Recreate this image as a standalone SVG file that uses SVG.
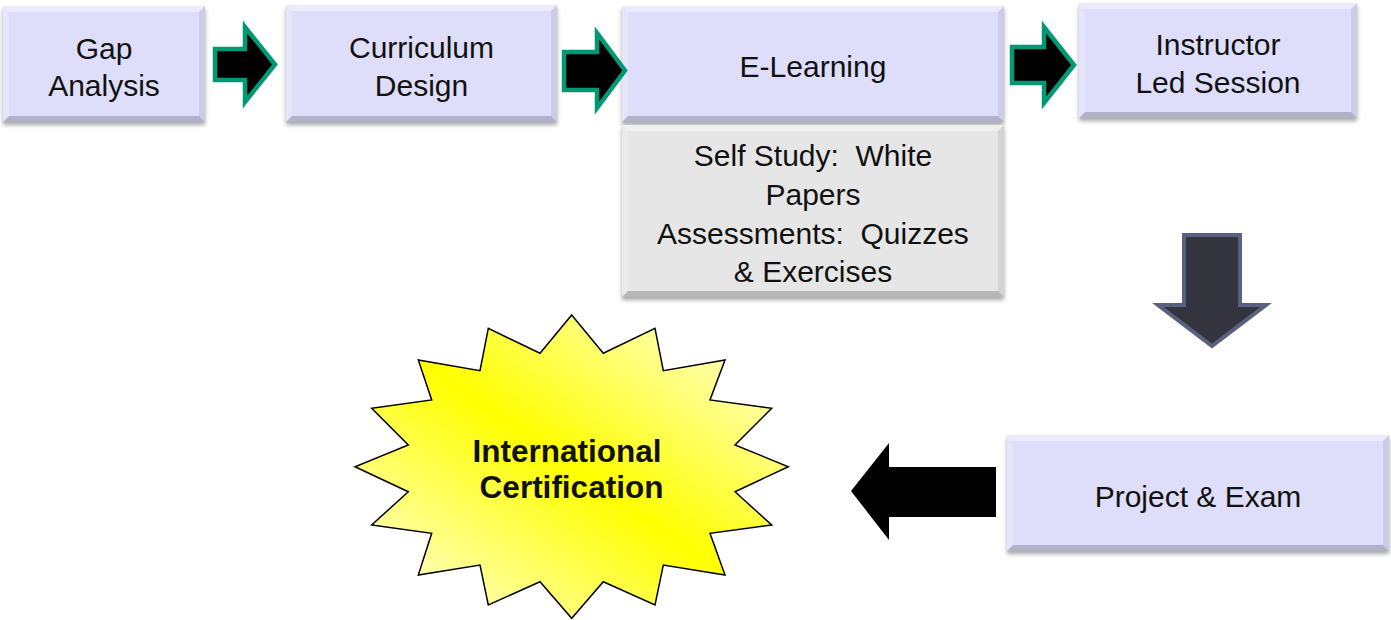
<svg xmlns="http://www.w3.org/2000/svg" width="1391" height="620" viewBox="0 0 1391 620">
  <defs>
    <filter id="shadow" x="-5%" y="-10%" width="110%" height="130%">
      <feDropShadow dx="0" dy="3" stdDeviation="2" flood-color="#000" flood-opacity="0.35"/>
    </filter>
    <linearGradient id="starGrad" x1="1" y1="0" x2="0" y2="1">
      <stop offset="0" stop-color="#fffff2"/>
      <stop offset="0.5" stop-color="#ffff00"/>
      <stop offset="1" stop-color="#fffff2"/>
    </linearGradient>
    <style>
      .box { fill: #dedefa; filter: url(#shadow); }
      .gbox { fill: #e6e6e6; filter: url(#shadow); }
      .bt { fill: #ffffff; opacity: 0.4; }
      .bl { fill: #ffffff; opacity: 0.22; }
      .br { fill: #000000; opacity: 0.08; }
      .bb { fill: #000000; opacity: 0.2; }
      .lbl { font-family: "Liberation Sans", Arial, sans-serif; font-size: 30px; fill: #111; text-anchor: middle; }
      .star-lbl { font-family: "Liberation Sans", Arial, sans-serif; font-size: 31.5px; font-weight: bold; fill: #111; text-anchor: middle; }
      .garrow { fill: #000; stroke: #009973; stroke-width: 4.5; stroke-linejoin: miter; }
      .darrow { fill: #34343f; stroke: #5a6080; stroke-width: 4; stroke-linejoin: miter; }
      .barrow { fill: #000; }
    </style>
  </defs>

  <g id="node-gap-analysis">
    <rect class="box" x="3" y="6" width="202" height="116"/>
    <polygon class="bt" points="3,6 205,6 199,12 9,12"/>
    <polygon class="bl" points="3,6 9,12 9,116 3,122"/>
    <polygon class="br" points="205,6 205,122 199,116 199,12"/>
    <polygon class="bb" points="3,122 205,122 199,116 9,116"/>
    <text class="lbl" x="104" y="58.5">Gap</text>
    <text class="lbl" x="104" y="96">Analysis</text>
  </g>

  <g id="node-curriculum-design">
    <rect class="box" x="286" y="5" width="271" height="117"/>
    <polygon class="bt" points="286,5 557,5 551,11 292,11"/>
    <polygon class="bl" points="286,5 292,11 292,116 286,122"/>
    <polygon class="br" points="557,5 557,122 551,116 551,11"/>
    <polygon class="bb" points="286,122 557,122 551,116 292,116"/>
    <text class="lbl" x="421.5" y="57.5">Curriculum</text>
    <text class="lbl" x="421.5" y="95.5">Design</text>
  </g>

  <g id="node-e-learning">
    <rect class="box" x="622" y="6" width="382" height="116"/>
    <polygon class="bt" points="622,6 1004,6 998,12 628,12"/>
    <polygon class="bl" points="622,6 628,12 628,116 622,122"/>
    <polygon class="br" points="1004,6 1004,122 998,116 998,12"/>
    <polygon class="bb" points="622,122 1004,122 998,116 628,116"/>
    <text class="lbl" x="813" y="77">E-Learning</text>
  </g>

  <g id="node-self-study">
    <rect class="gbox" x="622" y="125" width="382" height="172"/>
    <polygon class="bt" points="622,125 1004,125 998,131 628,131"/>
    <polygon class="bl" points="622,125 628,131 628,291 622,297"/>
    <polygon class="br" points="1004,125 1004,297 998,291 998,131"/>
    <polygon class="bb" points="622,297 1004,297 998,291 628,291"/>
    <text class="lbl" x="813" y="166" xml:space="preserve">Self Study:  White</text>
    <text class="lbl" x="813" y="204.5">Papers</text>
    <text class="lbl" x="813" y="243.5" xml:space="preserve">Assessments:  Quizzes</text>
    <text class="lbl" x="813" y="282">&amp; Exercises</text>
  </g>

  <g id="node-instructor-led-session">
    <rect class="box" x="1079" y="3" width="278" height="115"/>
    <polygon class="bt" points="1079,3 1357,3 1351,9 1085,9"/>
    <polygon class="bl" points="1079,3 1085,9 1085,112 1079,118"/>
    <polygon class="br" points="1357,3 1357,118 1351,112 1351,9"/>
    <polygon class="bb" points="1079,118 1357,118 1351,112 1085,112"/>
    <text class="lbl" x="1218" y="55">Instructor</text>
    <text class="lbl" x="1218" y="93">Led Session</text>
  </g>

  <g id="node-project-exam">
    <rect class="box" x="1007" y="435" width="382" height="116"/>
    <polygon class="bt" points="1007,435 1389,435 1383,441 1013,441"/>
    <polygon class="bl" points="1007,435 1013,441 1013,545 1007,551"/>
    <polygon class="br" points="1389,435 1389,551 1383,545 1383,441"/>
    <polygon class="bb" points="1007,551 1389,551 1383,545 1013,545"/>
    <text class="lbl" x="1198" y="507">Project &amp; Exam</text>
  </g>

  <g id="node-international-certification">
    <polygon points="571.7,315 603.3,353.3 655,328.3 663.3,370.7 725,360 710,400 771.7,408.3 735,445 788.3,466.7 735,491.7 771.7,525 710,533.3 725,575 663.3,565 655,605 603.3,581.7 571.7,618.3 540,581.7 488.3,605 480,565 418.3,575 431.7,533.3 371.7,525 408.3,491.7 355,466.7 408.3,445 371.7,408.3 431.7,400 418.3,360 480,370.7 488.3,328.3 540,353.3" fill="url(#starGrad)" stroke="#000" stroke-width="1.5" stroke-linejoin="miter"/>
    <text class="star-lbl" x="567" y="461.5">International</text>
    <text class="star-lbl" x="571.5" y="498">Certification</text>
  </g>

  <g id="connectors">
    <path class="garrow" d="M215,49 H245 V27 L275,64.5 L245,102 V80 H215 Z"/>
    <path class="garrow" d="M564,52 H597 V33 L625,70.5 L597,108 V90 H564 Z"/>
    <path class="garrow" d="M1012,47 H1044 V27 L1074,65 L1044,103 V83 H1012 Z"/>
    <path class="darrow" d="M1184,235 H1240 V305 H1266 L1212,346 L1158,305 H1184 Z"/>
    <path class="barrow" d="M996,467 V517 H889 V540 L851,491 L889,443 V467 Z"/>
  </g>
</svg>
